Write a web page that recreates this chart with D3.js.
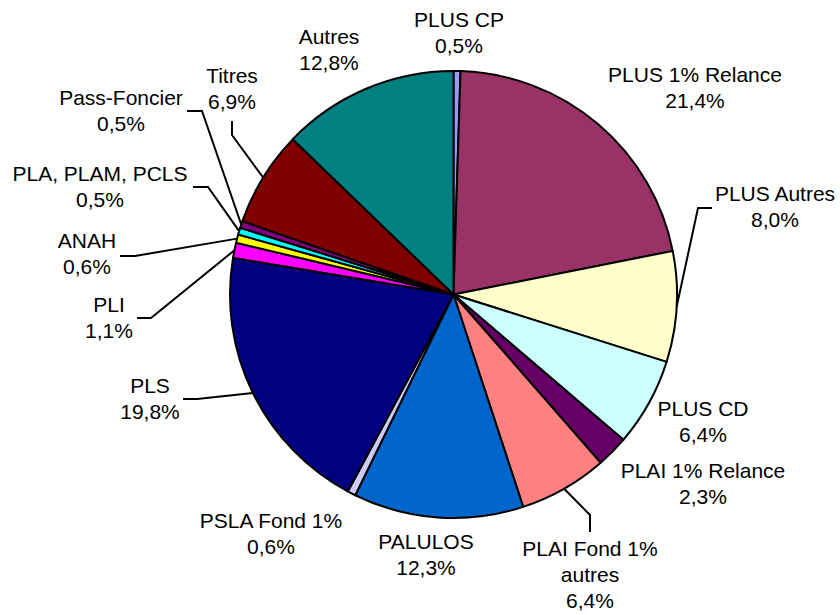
<!DOCTYPE html>
<html>
<head>
<meta charset="utf-8">
<script src="https://cdn.jsdelivr.net/npm/d3@7"></script>
<style>
  html, body { margin: 0; padding: 0; background: #ffffff; }
  svg { display: block; }
  text { font-family: "Liberation Sans", Arial, sans-serif; fill: #000; }
</style>
</head>
<body>
<svg id="chart" width="840" height="615"></svg>
<script>
// ---- Data ----
const categories = [
  "PLUS CP", "PLUS 1% Relance", "PLUS Autres", "PLUS CD", "PLAI 1% Relance",
  "PLAI Fond 1%\nautres", "PALULOS", "PSLA Fond 1%", "PLS", "PLI",
  "ANAH", "PLA, PLAM, PCLS", "Pass-Foncier", "Titres", "Autres"
];
const values = [0.5, 21.4, 8.0, 6.4, 2.3, 6.4, 12.3, 0.6, 19.8, 1.1, 0.6, 0.5, 0.5, 6.9, 12.8];
const colors = [
  "#9999FF", "#993366", "#FFFFCC", "#CCFFFF", "#660066",
  "#FF8080", "#0066CC", "#CCCCFF", "#000080", "#FF00FF",
  "#FFFF00", "#00FFFF", "#800080", "#800000", "#008080"
];

// ---- Layout (label centres of first line, leader line start & knee) ----
const labelPos = [
  [459, 19], [695, 74], [775, 193], [703, 408], [703, 470],
  [590, 548], [426, 541], [271, 520], [150, 385], [109, 304],
  [87, 240], [100, 173], [121, 97], [232, 75], [329, 36]
];
const leaders = {
  2: [[712, 208], [698, 208]],
  5: [[590, 532], [590, 515]],
  8: [[183, 399], [197, 399]],
  9: [[137, 318], [151, 318]],
  10: [[120, 256], [135, 256]],
  11: [[193, 187], [208, 187]],
  12: [[187, 111], [202, 111]],
  13: [[232, 121], [232, 135]]
};

const cx = 453.5, cy = 294.5, R = 223.5;
const fontSize = 21, lineH = 26;

const svg = d3.select("#chart");
const data = categories.map((c, i) => ({ name: c, value: values[i], color: colors[i], i }));

const pie = d3.pie().value(d => d.value).sort(null).startAngle(0).endAngle(2 * Math.PI);
const arcs = pie(data);
const arc = d3.arc().innerRadius(0).outerRadius(R);

const g = svg.append("g").attr("transform", `translate(${cx},${cy})`);
g.selectAll("path.slice")
  .data(arcs)
  .enter().append("path")
  .attr("class", "slice")
  .attr("d", arc)
  .attr("fill", d => d.data.color)
  .attr("stroke", "#000")
  .attr("stroke-width", 2)
  .attr("stroke-linejoin", "round");

// leader lines
const fmt = v => d3.format(".1f")(v).replace(".", ",") + "%";
arcs.forEach((a, i) => {
  if (!leaders[i]) return;
  const mid = (a.startAngle + a.endAngle) / 2;
  const ex = cx + R * Math.sin(mid);
  const ey = cy - R * Math.cos(mid);
  const [s, k] = leaders[i];
  svg.append("path")
    .attr("d", d3.line()([s, k, [ex, ey]]))
    .attr("fill", "none")
    .attr("stroke", "#000")
    .attr("stroke-width", 2);
});

// labels
arcs.forEach((a, i) => {
  const lines = a.data.name.split("\n").concat([fmt(a.data.value)]);
  const [lx, ly] = labelPos[i];
  const t = svg.append("text")
    .attr("text-anchor", "middle")
    .attr("font-size", fontSize);
  lines.forEach((ln, j) => {
    t.append("tspan")
      .attr("x", lx)
      .attr("y", ly + 7.5 + j * lineH)
      .text(ln);
  });
});
</script>
</body>
</html>
